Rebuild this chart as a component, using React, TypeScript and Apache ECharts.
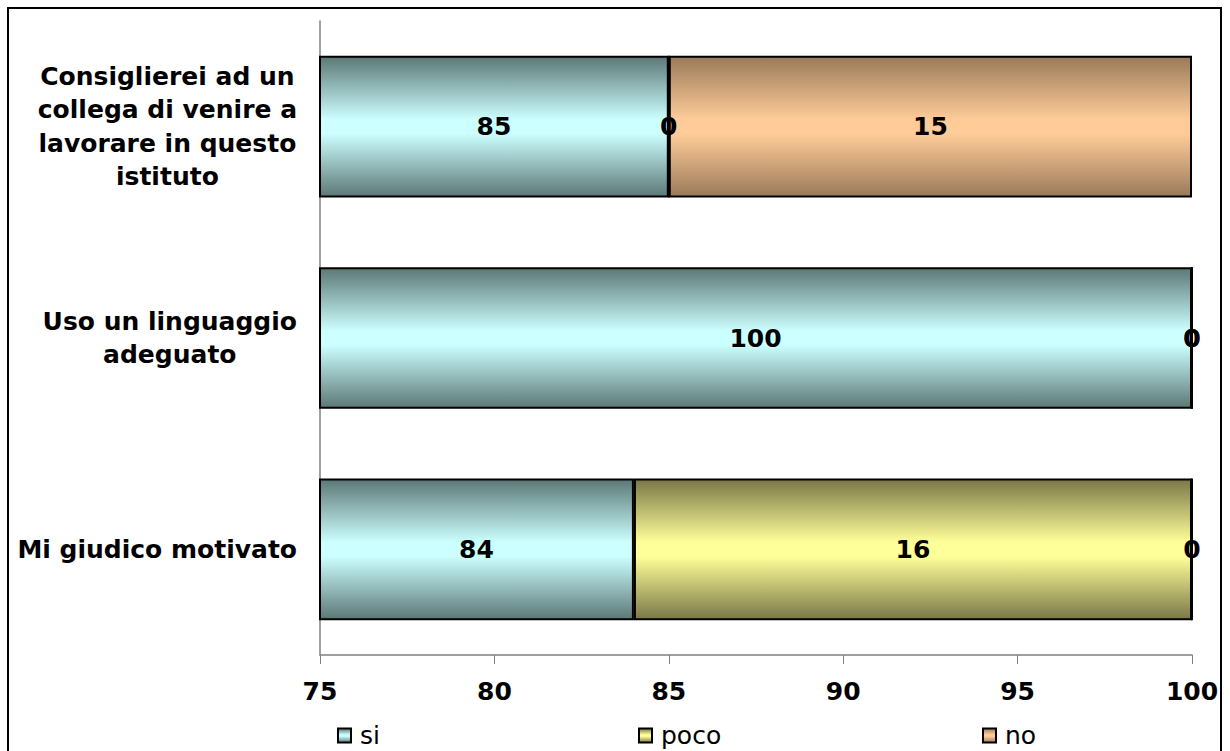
import React, { useEffect, useRef } from "react";
import * as echarts from "echarts";

const categories = [
  "Mi giudico motivato",
  "Uso un linguaggio\nadeguato",
  "Consiglierei ad un\ncollega di venire a\nlavorare in questo\nistituto",
];
const siValues = [84, 100, 85];
const pocoValues = [16, 0, 0];
const noValues = [0, 0, 15];
const xTicks = { min: 75, max: 100, interval: 5 };

const grad = (edge: string, mid: string) =>
  new echarts.graphic.LinearGradient(0, 0, 0, 1, [
    { offset: 0, color: edge },
    { offset: 0.45, color: mid },
    { offset: 0.55, color: mid },
    { offset: 1, color: edge },
  ]);

export default function App() {
  const ref = useRef<HTMLDivElement>(null);
  useEffect(() => {
    if (!ref.current) return;
    const chart = echarts.init(ref.current, null, { renderer: "svg" });
    const labelStyle = {
      show: true,
      position: "inside",
      color: "#000",
      fontFamily: "DejaVu Sans",
      fontWeight: "bold",
      fontSize: 25,
    };
    const mkSeries = (name: string, data: number[], edge: string, mid: string) => ({
      name,
      type: "bar",
      stack: "total",
      data,
      barCategoryGap: "33%",
      itemStyle: { color: grad(edge, mid), borderColor: "#000", borderWidth: 2 },
      label: labelStyle,
    });
    const legendText = {
      fontFamily: "DejaVu Sans",
      fontSize: 25,
      color: "#000",
      padding: [0, 0, 0, 4],
    };
    const mkLegend = (name: string, left: number) => ({
      data: [name],
      left,
      top: 718,
      icon: "rect",
      itemWidth: 13,
      itemHeight: 14,
      itemGap: 4,
      itemStyle: { borderColor: "#000", borderWidth: 2 },
      textStyle: legendText,
    });
    chart.setOption({
      animation: false,
      backgroundColor: "#fff",
      grid: { left: 320, right: 38, top: 21, bottom: 96 },
      legend: [mkLegend("si", 332), mkLegend("poco", 633), mkLegend("no", 977)],
      xAxis: {
        type: "value",
        min: xTicks.min,
        max: xTicks.max,
        interval: xTicks.interval,
        axisLine: { show: true, lineStyle: { color: "#808080", width: 1.5 } },
        axisTick: { show: true, length: 9, lineStyle: { color: "#808080" } },
        splitLine: { show: false },
        axisLabel: {
          margin: 24,
          color: "#000",
          fontFamily: "DejaVu Sans",
          fontWeight: "bold",
          fontSize: 25,
        },
      },
      yAxis: {
        type: "category",
        data: categories,
        axisLine: { show: true, lineStyle: { color: "#808080", width: 1.5 } },
        axisTick: { show: false },
        axisLabel: {
          margin: 23,
          align: "right",
          formatter: (v: string) =>
            v.split("\n").map((l) => `{c|${l}}`).join("\n"),
          rich: {
            c: {
              align: "center",
              color: "#000",
              fontFamily: "DejaVu Sans",
              fontWeight: "bold",
              fontSize: 25,
              lineHeight: 33.5,
            },
          },
        },
      },
      series: [
        mkSeries("si", siValues, "#5c7876", "#ccffff"),
        mkSeries("poco", pocoValues, "#7a7848", "#ffff99"),
        mkSeries("no", noValues, "#9a7a5a", "#ffcc99"),
      ],
      graphic: [
        {
          type: "rect",
          shape: { x: 8, y: 8, width: 1213, height: 800 },
          style: { fill: "none", stroke: "#000", lineWidth: 2 },
          silent: true,
        },
      ],
    });
    return () => chart.dispose();
  }, []);
  return (
    <div
      ref={ref}
      style={{ position: "fixed", left: 0, top: 0, width: 1230, height: 751 }}
    />
  );
}
